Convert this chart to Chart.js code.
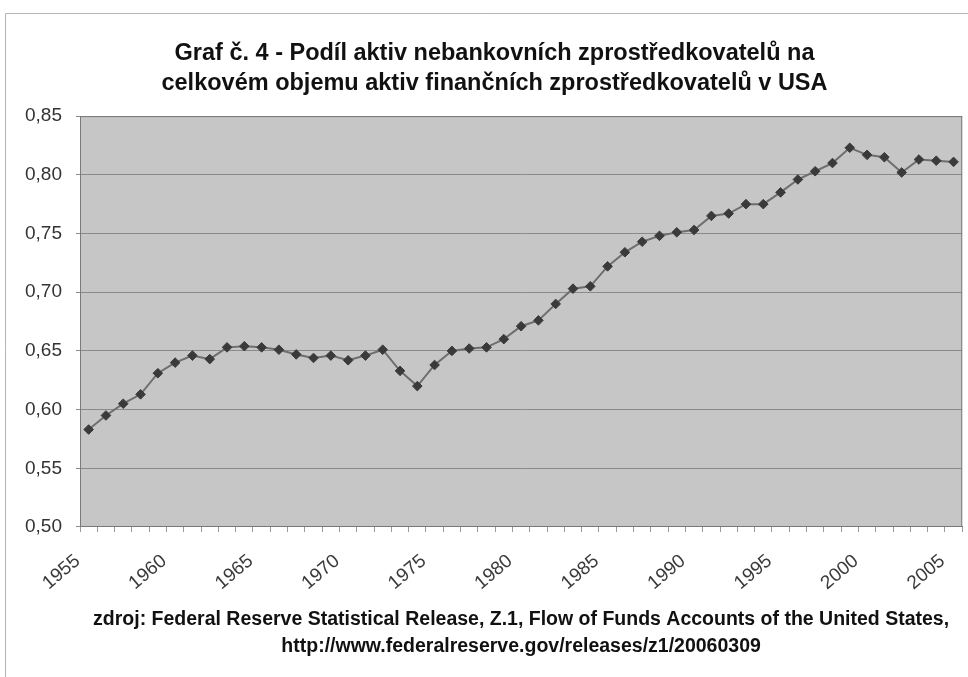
<!DOCTYPE html>
<html>
<head>
<meta charset="utf-8">
<script src="https://cdn.jsdelivr.net/npm/chart.js@4.4.0/dist/chart.umd.min.js"></script>
<style>
html, body { margin: 0; padding: 0; background: #fff; }
#obal { width: 968px; height: 677px; position: relative; }
</style>
</head>
<body>
<div id="obal"><canvas id="grafCanvas"></canvas></div>
<script>
// roky a podil nebankovnich zprostredkovatelu
const roky = ['1955', '1956', '1957', '1958', '1959', '1960', '1961', '1962', '1963', '1964',
    '1965', '1966', '1967', '1968', '1969', '1970', '1971', '1972', '1973', '1974',
    '1975', '1976', '1977', '1978', '1979', '1980', '1981', '1982', '1983', '1984',
    '1985', '1986', '1987', '1988', '1989', '1990', '1991', '1992', '1993', '1994',
    '1995', '1996', '1997', '1998', '1999', '2000', '2001', '2002', '2003', '2004', '2005']
const podil = [0.583, 0.595, 0.605, 0.613, 0.631, 0.640, 0.646, 0.643, 0.653, 0.654,
    0.653, 0.651, 0.647, 0.644, 0.646, 0.642, 0.646, 0.651, 0.633, 0.620,
    0.638, 0.650, 0.652, 0.653, 0.660, 0.671, 0.676, 0.690, 0.703, 0.705,
    0.722, 0.734, 0.743, 0.748, 0.751, 0.753, 0.765, 0.767, 0.775, 0.775,
    0.785, 0.796, 0.803, 0.810, 0.823, 0.817, 0.815, 0.802, 0.813, 0.812, 0.811]
const osaYMin = 0.50
const osaYMax = 0.85
const osaYKrok = 0.05
const titulek = ['Graf č. 4 - Podíl aktiv nebankovních zprostředkovatelů na',
    'celkovém objemu aktiv finančních zprostředkovatelů v USA']
const zdroj = ['zdroj: Federal Reserve Statistical Release, Z.1, Flow of Funds Accounts of the United States,',
    'http://www.federalreserve.gov/releases/z1/20060309']

const pozadiGrafu = {
    id: 'pozadiGrafu',
    beforeDraw(chart) {
        const { ctx, chartArea: a, width, height } = chart
        ctx.save()
        ctx.fillStyle = '#ffffff'
        ctx.fillRect(0, 0, width, height)
        // ramecek kolem celeho grafu
        ctx.strokeStyle = '#b4b4b4'
        ctx.lineWidth = 1
        ctx.beginPath()
        ctx.moveTo(5.5, height)
        ctx.lineTo(5.5, 13.5)
        ctx.lineTo(width, 13.5)
        ctx.stroke()
        // seda plocha grafu
        ctx.fillStyle = '#c6c6c6'
        ctx.fillRect(a.left, a.top, a.right - a.left, a.bottom - a.top)
        ctx.restore()
    },
    beforeDatasetsDraw(chart) {
        const { ctx, chartArea: a } = chart
        ctx.save()
        ctx.strokeStyle = '#7a7a7a'
        ctx.lineWidth = 1
        ctx.strokeRect(a.left + 0.5, a.top + 0.5, a.right - a.left - 1, a.bottom - a.top - 1)
        ctx.restore()
    }
}

const graf = new Chart(document.getElementById('grafCanvas'), {
    type: 'line',
    data: {
        labels: roky,
        datasets: [{
            label: 'Podíl aktiv',
            data: podil,
            borderColor: '#6e6e6e',
            borderWidth: 2,
            tension: 0,
            pointStyle: 'rectRot',
            pointRadius: 4.8,
            pointBackgroundColor: '#3a3a3a',
            pointBorderColor: '#3a3a3a',
            pointBorderWidth: 1
        }]
    },
    options: {
        responsive: true,
        maintainAspectRatio: false,
        animation: false,
        layout: {
            padding: { left: 24, right: 3, top: 0, bottom: 0 }
        },
        plugins: {
            legend: { display: false },
            tooltip: { enabled: false },
            title: {
                display: true,
                text: titulek,
                color: '#111111',
                font: { family: 'Liberation Sans, Arial, sans-serif', size: 23.5, weight: 'bold', lineHeight: 1.3 },
                padding: { top: 38, bottom: 17 }
            },
            subtitle: {
                display: true,
                position: 'bottom',
                fullSize: false,
                text: zdroj,
                color: '#111111',
                font: { family: 'Liberation Sans, Arial, sans-serif', size: 19.5, weight: 'bold', lineHeight: 1.385 },
                padding: { top: 13, bottom: 17 }
            }
        },
        scales: {
            x: {
                offset: true,
                afterFit: function (s) {
                    s.height = 66
                    s.paddingLeft = 0
                    s.paddingRight = 0
                },
                grid: {
                    display: true,
                    offset: true,
                    drawOnChartArea: false,
                    tickLength: 5,
                    color: '#9a9a9a'
                },
                border: { display: true, color: '#7a7a7a' },
                ticks: {
                    autoSkip: false,
                    minRotation: 40,
                    maxRotation: 40,
                    padding: 18,
                    labelOffset: -11,
                    color: '#3a3a3a',
                    font: { family: 'Liberation Sans, Arial, sans-serif', size: 19 },
                    callback: function (value, index) {
                        return index % 5 === 0 ? roky[index] : ''
                    }
                }
            },
            y: {
                min: osaYMin,
                max: osaYMax,
                afterFit: function (s) { s.width = 56 },
                grid: {
                    color: '#8a8a8a',
                    tickLength: 4,
                    tickColor: '#8a8a8a'
                },
                border: { display: true, color: '#7a7a7a' },
                ticks: {
                    stepSize: osaYKrok,
                    padding: 14,
                    color: '#333333',
                    font: { family: 'Liberation Sans, Arial, sans-serif', size: 19 },
                    callback: function (value) {
                        return value.toLocaleString('cs-CZ', { minimumFractionDigits: 2, maximumFractionDigits: 2 })
                    }
                }
            }
        }
    },
    plugins: [pozadiGrafu]
})
</script>
</body>
</html>
